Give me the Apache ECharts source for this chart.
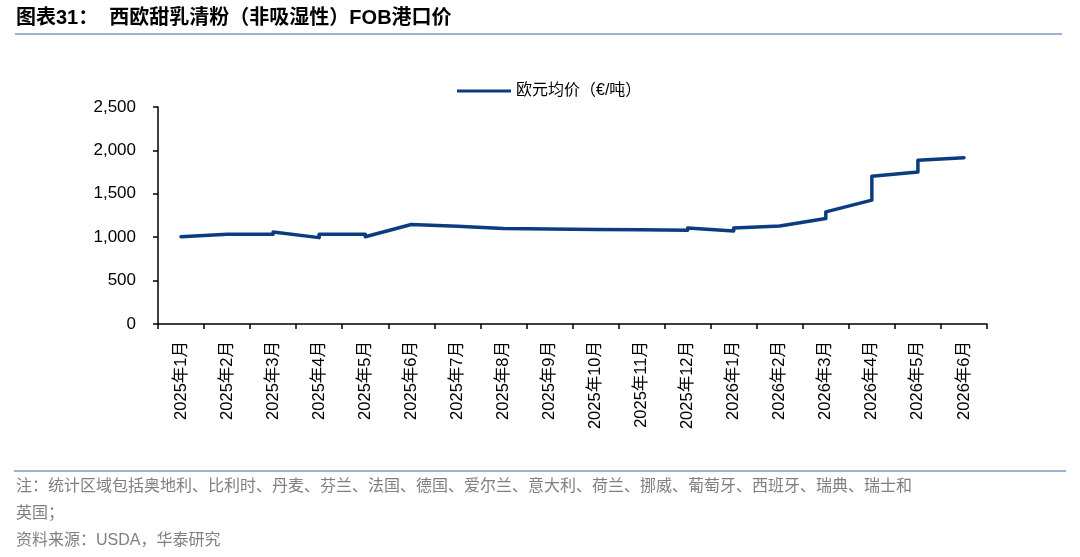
<!DOCTYPE html>
<html>
<head>
<meta charset="utf-8">
<title>西欧甜乳清粉（非吸湿性）FOB港口价</title>
<script src="https://cdn.jsdelivr.net/npm/echarts@6/dist/echarts.min.js"></script>
<style>
  html, body { margin: 0; padding: 0; background: #fff; }
  #chart { width: 1080px; height: 557px; }
</style>
</head>
<body>
<div id="chart"></div>
<script>
// month labels on the x axis
var months = [
  '2025年1月', '2025年2月', '2025年3月', '2025年4月', '2025年5月', '2025年6月',
  '2025年7月', '2025年8月', '2025年9月', '2025年10月', '2025年11月', '2025年12月',
  '2026年1月', '2026年2月', '2026年3月', '2026年4月', '2026年5月', '2026年6月'
];

// each price point sits on its month (two quotes in some months -> vertical step)
var pointMonth = [0, 1, 2, 2, 3, 3, 4, 4, 5, 5, 6, 6, 7, 8, 9, 10, 11, 11, 12, 12, 13, 14, 14, 15, 15, 16, 16, 17];
var pointValue = [1005, 1035, 1035, 1060, 995, 1035, 1035, 1005, 1147, 1127, 1127, 1104, 1100, 1095, 1090, 1085, 1080, 1105, 1072, 1105, 1130, 1215, 1292, 1427, 1703, 1752, 1887, 1915];

var yTicks = [0, 500, 1000, 1500, 2000, 2500];

var seriesName = '欧元均价（€/吨）';
var titleText = '图表31：  西欧甜乳清粉（非吸湿性）FOB港口价';
var noteLines = [
  '注：统计区域包括奥地利、比利时、丹麦、芬兰、法国、德国、爱尔兰、意大利、荷兰、挪威、葡萄牙、西班牙、瑞典、瑞士和',
  '英国；',
  '资料来源：USDA，华泰研究'
];

var FONT = '"Liberation Sans", Arial, "Noto Sans CJK SC", sans-serif';
var lineColor = '#0b3d7e';
var ruleColor = '#9db3d2';

var chart = echarts.init(document.getElementById('chart'));

var points = pointMonth.map(function (m, i) { return [m, pointValue[i]]; });

function addCommas(v) {
  return String(v).replace(/\B(?=(\d{3})+(?!\d))/g, ',');
}

var graphics = [
  {
    type: 'text', left: 16, top: 8,
    style: { text: titleText, font: 'bold 20px ' + FONT, fill: '#000' }
  },
  {
    type: 'rect', shape: { x: 15, y: 33, width: 1047, height: 2 },
    style: { fill: ruleColor }
  },
  {
    type: 'rect', shape: { x: 14, y: 470, width: 1052, height: 2 },
    style: { fill: ruleColor }
  }
];
noteLines.forEach(function (t, i) {
  graphics.push({
    type: 'text', left: 16, top: 479 + i * 27,
    style: { text: t, font: '16px ' + FONT, fill: '#7f7f7f' }
  });
});

chart.setOption({
  animation: false,
  backgroundColor: '#fff',
  graphic: graphics,
  legend: {
    left: 452, top: 78,
    icon: 'rect', itemWidth: 54, itemHeight: 3, itemGap: 6,
    textStyle: { fontFamily: FONT, fontSize: 16, color: '#000', padding: [0, 0, 0, 0] },
    data: [seriesName]
  },
  grid: { left: 158, right: 93, top: 107, bottom: 233 },
  xAxis: {
    type: 'category',
    data: months,
    boundaryGap: true,
    axisLine: { lineStyle: { color: '#000', width: 1.5 } },
    axisTick: { show: true, interval: 0, length: 5, lineStyle: { color: '#000', width: 1.5 } },
    axisLabel: {
      interval: 0, rotate: 90, margin: 17,
      fontFamily: FONT, fontSize: 16.5, color: '#000'
    },
    splitLine: { show: false }
  },
  yAxis: {
    type: 'value',
    min: yTicks[0], max: yTicks[yTicks.length - 1], interval: 500,
    axisLine: { show: true, lineStyle: { color: '#000', width: 1.5 } },
    axisTick: { show: true, length: 5, lineStyle: { color: '#000', width: 1.5 } },
    axisLabel: {
      margin: 22, fontFamily: FONT, fontSize: 17, color: '#000',
      formatter: function (v) { return addCommas(v); }
    },
    splitLine: { show: false }
  },
  series: [{
    name: seriesName,
    type: 'line',
    data: points,
    symbol: 'none',
    itemStyle: { color: lineColor },
    lineStyle: { color: lineColor, width: 3.5, cap: 'round', join: 'round' }
  }]
});
</script>
</body>
</html>
